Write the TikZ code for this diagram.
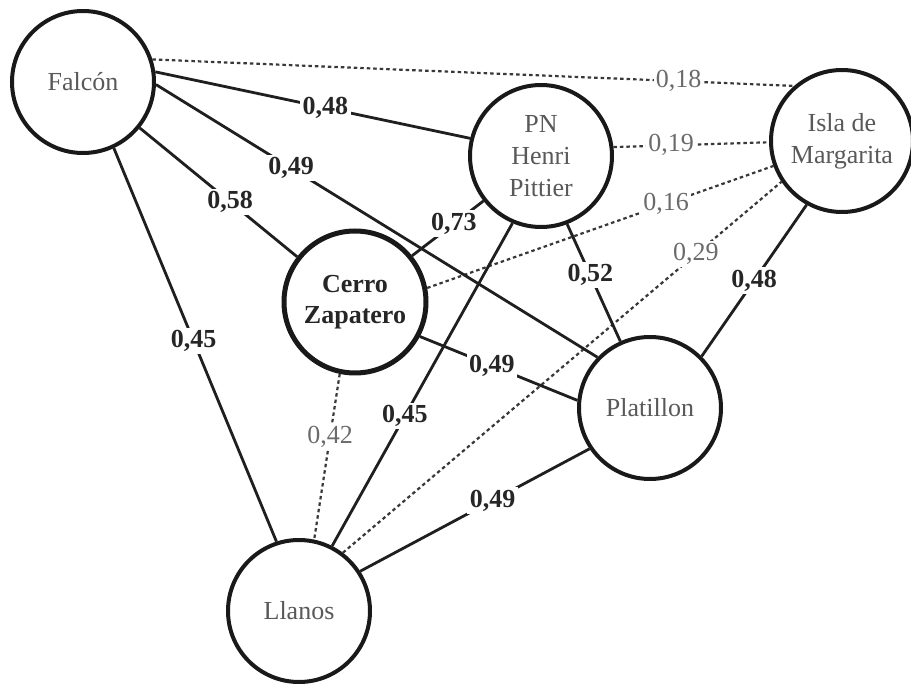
\documentclass[tikz,border=0pt]{standalone}
\usepackage{fontspec}
\setmainfont{Liberation Serif}
\begin{document}
\begin{tikzpicture}[x=1pt,y=-1pt,
  site/.style={circle, draw=black!90, line width=4pt, minimum size=142pt, inner sep=0pt, align=center, text=black!65, font=\fontsize{26}{32}\selectfont},
  strong/.style={line width=2.8pt, draw=black!88},
  weak/.style={line width=2.2pt, draw=black!78, dash pattern=on 3.5pt off 3pt},
  slab/.style={fill=white, inner sep=2.5pt, text=black!85, font=\fontsize{26}{30}\selectfont\bfseries},
  wlab/.style={fill=white, inner sep=2pt, text=black!58, font=\fontsize{26}{30}\selectfont},
]
\useasboundingbox[fill=white] (0,0) rectangle (911,684);
% nodes
\node[site] (F) at (83,82) {Falcón};
\node[site] (P) at (541,156) {PN\\Henri\\Pittier};
\node[site] (I) at (842,141) {Isla de\\Margarita};
\node[site, line width=5pt, text=black!85, font=\fontsize{26}{31}\selectfont\bfseries] (C) at (355,302) {Cerro\\Zapatero};
\node[site] (T) at (650,408) {Platillon};
\node[site] (L) at (299,611) {Llanos};
% weak (dotted) links
\draw[weak] (F.18) -- node[wlab,pos=0.82]{0,18} (I.131);
\draw[weak] (P.7) -- node[wlab,pos=0.37]{0,19} (I.181);
\draw[weak] (C.11) -- node[wlab,pos=0.69]{0,16} (I.200);
\draw[weak] (C.258) -- node[wlab,pos=0.38]{0,42} (L.78);
\draw[weak] (L.53) -- node[wlab,pos=0.805]{0,29} (I.214);
% strong (solid) links
\draw[strong] (F.8) -- node[slab,pos=0.54]{0,48} (P.166);
\draw[strong] (F.-2) -- node[slab,pos=0.306]{0,49} (T.136);
\draw[strong] (F.-39) -- node[slab,pos=0.574]{0,58} (C.142);
\draw[strong] (F.-65) -- node[slab,pos=0.49]{0,45} (L.108);
\draw[strong] (C.39) -- node[slab,pos=0.586]{0,73} (P.218);
\draw[strong] (P.247) -- node[slab,pos=0.597]{0,45} (L.63);
\draw[strong] (P.291) -- node[slab,pos=0.435]{0,52} (T.114);
\draw[strong] (C.-28) -- node[slab,pos=0.457]{0,49} (T.174);
\draw[strong] (I.241) -- node[slab,pos=0.5]{0,48} (T.45);
\draw[strong] (T.214) -- node[slab,pos=0.422]{0,49} (L.33);
\end{tikzpicture}
\end{document}
